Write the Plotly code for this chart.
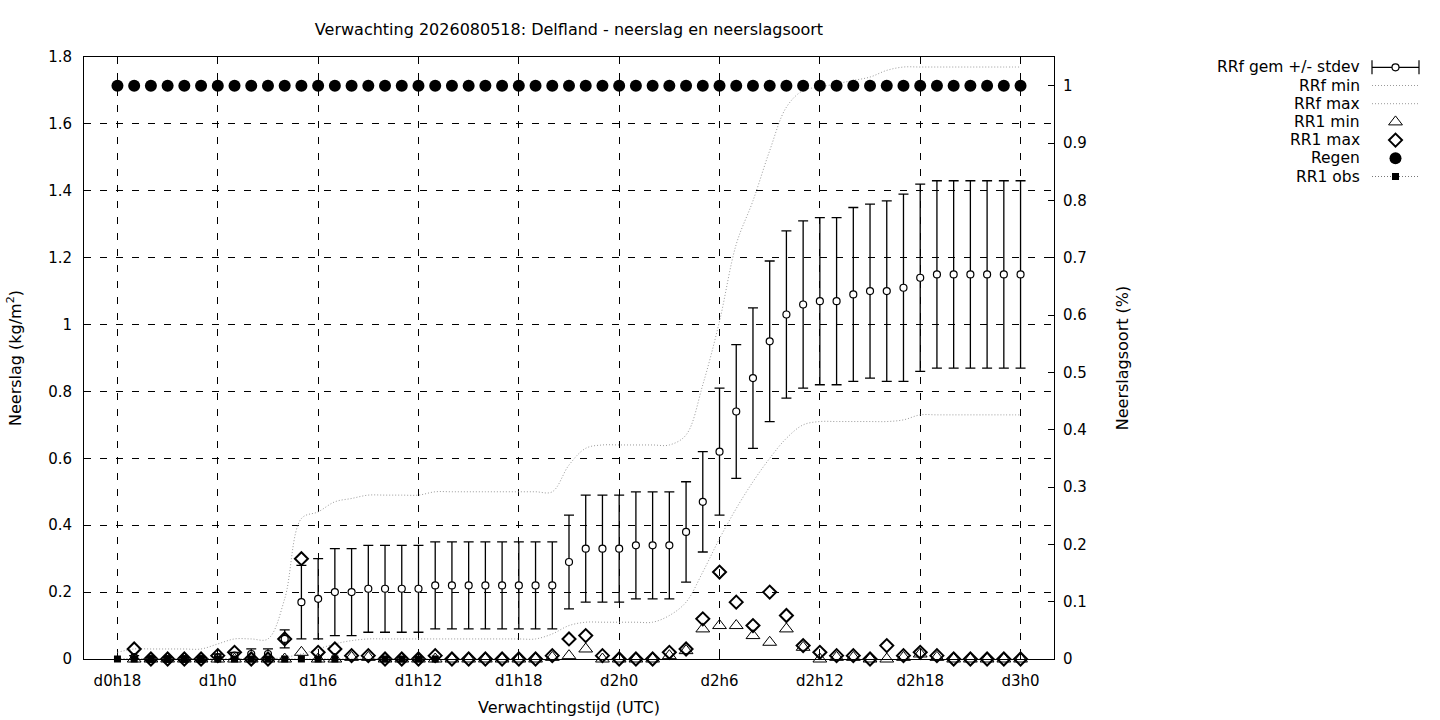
import plotly.graph_objects as go

# ---------------- data ----------------
hours = list(range(55))  # hour offset from d0h18
tick_hours = [0, 6, 12, 18, 24, 30, 36, 42, 48, 54]
tick_labels = ["d0h18", "d1h0", "d1h6", "d1h12", "d1h18", "d2h0", "d2h6", "d2h12", "d2h18", "d3h0"]

rrf_mean = [None, 0.005, 0, 0, 0, 0, 0.005, 0.01, 0.015, 0.015,
            0.06, 0.17, 0.18, 0.20, 0.20, 0.21, 0.21, 0.21, 0.21, 0.22,
            0.22, 0.22, 0.22, 0.22, 0.22, 0.22, 0.22, 0.29, 0.33, 0.33,
            0.33, 0.34, 0.34, 0.34, 0.38, 0.47, 0.62, 0.74, 0.84, 0.95,
            1.03, 1.06, 1.07, 1.07, 1.09, 1.10, 1.10, 1.11, 1.14, 1.15,
            1.15, 1.15, 1.15, 1.15, 1.15]
rrf_std = [None, 0.005, 0.005, 0.005, 0.005, 0.005, 0.01, 0.01, 0.015, 0.015,
           0.027, 0.11, 0.12, 0.13, 0.13, 0.13, 0.13, 0.13, 0.13, 0.13,
           0.13, 0.13, 0.13, 0.13, 0.13, 0.13, 0.13, 0.14, 0.16, 0.16,
           0.16, 0.16, 0.16, 0.16, 0.15, 0.15, 0.19, 0.20, 0.21, 0.24,
           0.25, 0.25, 0.25, 0.25, 0.26, 0.26, 0.27, 0.28, 0.28, 0.28,
           0.28, 0.28, 0.28, 0.28, 0.28]
rrf_min = [0, 0, 0, 0, 0, 0, 0, 0, 0, 0,
           0.005, 0.015, 0.03, 0.045, 0.055, 0.06, 0.06, 0.06, 0.06, 0.06,
           0.06, 0.06, 0.06, 0.06, 0.06, 0.06, 0.075, 0.10, 0.11, 0.11,
           0.11, 0.11, 0.11, 0.13, 0.17, 0.26, 0.36, 0.45, 0.53, 0.60,
           0.66, 0.70, 0.71, 0.71, 0.71, 0.71, 0.71, 0.715, 0.73, 0.73,
           0.73, 0.73, 0.73, 0.73, 0.73]
rrf_max = [0.02, 0.03, 0.03, 0.03, 0.03, 0.03, 0.045, 0.06, 0.06, 0.06,
           0.18, 0.42, 0.44, 0.47, 0.48, 0.49, 0.49, 0.49, 0.49, 0.50,
           0.50, 0.50, 0.50, 0.50, 0.50, 0.50, 0.50, 0.58, 0.63, 0.64,
           0.64, 0.64, 0.64, 0.64, 0.67, 0.82, 1.01, 1.24, 1.37, 1.52,
           1.65, 1.70, 1.71, 1.72, 1.73, 1.74, 1.76, 1.77, 1.77, 1.77,
           1.77, 1.77, 1.77, 1.77, 1.77]
rr1_min = [None, 0, 0, 0, 0, 0, 0, 0, 0, 0,
           0, 0.02, 0, 0, 0.005, 0.005, 0, 0, 0, 0,
           0, 0, 0, 0, 0, 0, 0.005, 0.01, 0.03, 0,
           0, 0, 0, 0.01, 0.025, 0.09, 0.10, 0.10, 0.07, 0.05,
           0.09, 0.035, 0, 0.005, 0.005, 0, 0, 0.005, 0.015, 0.005,
           0, 0, 0, 0, 0]
rr1_max = [None, 0.03, 0, 0, 0, 0, 0.01, 0.02, 0, 0,
           0.06, 0.30, 0.02, 0.03, 0.01, 0.01, 0, 0, 0, 0.01,
           0, 0, 0, 0, 0, 0, 0.01, 0.06, 0.07, 0.01,
           0, 0, 0, 0.02, 0.03, 0.12, 0.26, 0.17, 0.10, 0.20,
           0.13, 0.04, 0.02, 0.01, 0.01, 0, 0.04, 0.01, 0.02, 0.01,
           0, 0, 0, 0, 0]
regen = [1, 1, 1, 1, 1, 1, 1, 1, 1, 1,
         1, 1, 1, 1, 1, 1, 1, 1, 1, 1,
         1, 1, 1, 1, 1, 1, 1, 1, 1, 1,
         1, 1, 1, 1, 1, 1, 1, 1, 1, 1,
         1, 1, 1, 1, 1, 1, 1, 1, 1, 1,
         1, 1, 1, 1, 1]
obs_hours = [0, 1, 2, 3, 4, 5, 6, 7, 8, 9, 10, 11, 12, 13, 16, 17, 18, 19]
obs_vals = [0, 0, 0, 0, 0, 0, 0, 0, 0, 0, 0, 0, 0, 0, 0, 0, 0, 0]

legend_labels = ["RRf gem +/- stdev", "RRf min", "RRf max", "RR1 min", "RR1 max", "Regen", "RR1 obs"]

title_text = "Verwachting 2026080518: Delfland - neerslag en neerslagsoort"

# ---------------- layout helpers ----------------
W, H = 1440, 720
ML, MR, MT, MB = 84, 0, 57, 61
PW = W - ML - MR
PH = H - MT - MB


def px2x(px):
    return (px - ML) / PW


def px2y(py):
    return (H - MB - py) / PH


FONT = "DejaVu Sans"
GRID_DASH = "7px,9px"
DOT_COLOR = "#9a9a9a"

fig = go.Figure()

# RRf gem +/- stdev
fig.add_trace(go.Scatter(
    x=hours, y=rrf_mean, mode="markers", name=legend_labels[0],
    marker=dict(symbol="circle", size=7, color="white", line=dict(color="black", width=1.2)),
    error_y=dict(type="data", array=rrf_std, visible=True, color="black", thickness=1.3, width=5),
    cliponaxis=False, showlegend=False))
# RRf min
fig.add_trace(go.Scatter(
    x=hours, y=rrf_min, mode="lines", name=legend_labels[1],
    line=dict(color=DOT_COLOR, width=1, dash="1px,2px", shape="spline", smoothing=1.0),
    showlegend=False))
# RRf max
fig.add_trace(go.Scatter(
    x=hours, y=rrf_max, mode="lines", name=legend_labels[2],
    line=dict(color=DOT_COLOR, width=1, dash="1px,2px", shape="spline", smoothing=1.0),
    showlegend=False))
# RR1 min
fig.add_trace(go.Scatter(
    x=hours, y=rr1_min, mode="markers", name=legend_labels[3],
    marker=dict(symbol="triangle-up-open", size=12, color="black", line=dict(color="black", width=1)),
    cliponaxis=False, showlegend=False))
# RR1 max
fig.add_trace(go.Scatter(
    x=hours, y=rr1_max, mode="markers", name=legend_labels[4],
    marker=dict(symbol="diamond-open", size=10, color="black", line=dict(color="black", width=2)),
    cliponaxis=False, showlegend=False))
# RR1 obs
fig.add_trace(go.Scatter(
    x=obs_hours, y=obs_vals, mode="lines+markers", name=legend_labels[6],
    line=dict(color="#777777", width=1, dash="1px,2px"),
    marker=dict(symbol="square", size=7, color="black"),
    cliponaxis=False, showlegend=False))
# Regen (right axis)
fig.add_trace(go.Scatter(
    x=hours, y=regen, mode="markers", name=legend_labels[5], yaxis="y2",
    marker=dict(symbol="circle", size=12, color="black"),
    cliponaxis=False, showlegend=False))

# ---------------- custom gnuplot-style legend ----------------
leg = dict(xaxis="x3", yaxis="y3", showlegend=False, hoverinfo="skip", cliponaxis=False)
fig.add_trace(go.Scatter(x=[0, 1], y=[0, 0], mode="lines+markers",
                         line=dict(color="black", width=1.2),
                         marker=dict(symbol="line-ns-open", size=10, line=dict(color="black", width=1.2)),
                         **leg))
fig.add_trace(go.Scatter(x=[0.5], y=[0], mode="markers",
                         marker=dict(symbol="circle", size=7, color="white", line=dict(color="black", width=1.2)),
                         **leg))
fig.add_trace(go.Scatter(x=[0, 1], y=[1, 1], mode="lines",
                         line=dict(color=DOT_COLOR, width=1, dash="1px,2px"), **leg))
fig.add_trace(go.Scatter(x=[0, 1], y=[2, 2], mode="lines",
                         line=dict(color=DOT_COLOR, width=1, dash="1px,2px"), **leg))
fig.add_trace(go.Scatter(x=[0.5], y=[3], mode="markers",
                         marker=dict(symbol="triangle-up-open", size=12, color="black", line=dict(width=1)), **leg))
fig.add_trace(go.Scatter(x=[0.5], y=[4], mode="markers",
                         marker=dict(symbol="diamond-open", size=10, color="black", line=dict(width=2)), **leg))
fig.add_trace(go.Scatter(x=[0.5], y=[5], mode="markers",
                         marker=dict(symbol="circle", size=12, color="black"), **leg))
fig.add_trace(go.Scatter(x=[0, 0.5, 1], y=[6, 6, 6], mode="lines",
                         line=dict(color="#777777", width=1, dash="1px,2px"), **leg))
fig.add_trace(go.Scatter(x=[0.5], y=[6], mode="markers",
                         marker=dict(symbol="square", size=7, color="black"), **leg))

annotations = []
for i, lab in enumerate(legend_labels):
    annotations.append(dict(text=lab, xref="paper", yref="y3", x=px2x(1362), y=i,
                            xanchor="right", yanchor="middle", showarrow=False,
                            font=dict(family=FONT, size=15.5, color="black")))

axis_common = dict(
    showline=True, linecolor="black", linewidth=1,
    ticks="inside", ticklen=6, tickcolor="black", tickwidth=1,
    zeroline=False,
    tickfont=dict(family=FONT, size=15, color="black"),
)

fig.update_layout(
    width=W, height=H,
    margin=dict(l=ML, r=MR, t=MT, b=MB),
    paper_bgcolor="white", plot_bgcolor="white",
    font=dict(family=FONT, size=15, color="black"),
    showlegend=False,
    title=dict(text=title_text, x=px2x(569), xref="paper", xanchor="center",
               y=1 - 29.5 / H, yref="container", yanchor="middle",
               font=dict(family=FONT, size=16, color="black")),
    xaxis=dict(domain=[0, px2x(1054)], range=[-2, 56], tickmode="array",
               tickvals=tick_hours, ticktext=tick_labels, mirror="ticks",
               showgrid=True, gridcolor="black", gridwidth=1, griddash=GRID_DASH,
               ticklabelstandoff=8,
               title=dict(text="Verwachtingstijd (UTC)", standoff=12,
                          font=dict(family=FONT, size=16, color="black")),
               **axis_common),
    yaxis=dict(range=[0, 1.8], dtick=0.2, tick0=0, mirror=True,
               showgrid=True, gridcolor="black", gridwidth=1, griddash=GRID_DASH,
               ticklabelstandoff=8,
               title=dict(text="Neerslag (kg/m<sup>2</sup>)", standoff=22,
                          font=dict(family=FONT, size=16, color="black")),
               **axis_common),
    yaxis2=dict(overlaying="y", side="right", anchor="x", range=[0, 1.05],
                tickmode="array", tickvals=[0, 0.1, 0.2, 0.3, 0.4, 0.5, 0.6, 0.7, 0.8, 0.9, 1],
                showgrid=False, ticklabelstandoff=8,
                title=dict(text="Neerslagsoort (%)", standoff=30,
                           font=dict(family=FONT, size=16, color="black")),
                **{**axis_common, "showline": False}),
    xaxis3=dict(domain=[px2x(1372), px2x(1419)], range=[0, 1], visible=False,
                anchor="y3", fixedrange=True),
    yaxis3=dict(domain=[px2y(67.3 + 18.2 * 6.5), px2y(67.3 - 18.2 * 0.5)],
                range=[6.5, -0.5], visible=False, anchor="x3", fixedrange=True),
    annotations=annotations,
)

fig.write_html("out.html", config={"displayModeBar": False},
               post_script="document.body.style.margin='0';document.body.style.overflow='hidden';")
